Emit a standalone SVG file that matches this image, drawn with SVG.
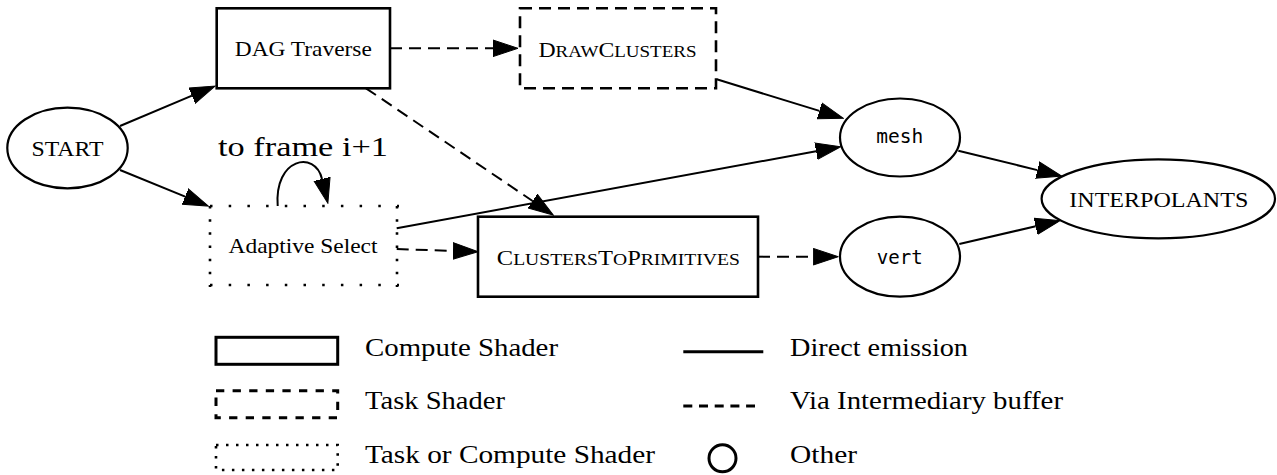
<svg xmlns="http://www.w3.org/2000/svg" width="1277" height="475" viewBox="0 0 1277 475">
  <style>
    .lbl { font-family: "Liberation Serif", "Times New Roman", serif; font-size: 22px; fill: #000; }
    .mono { font-family: "DejaVu Sans Mono", "Liberation Mono", monospace; font-size: 19.5px; fill: #000; }
    .leg { font-family: "Liberation Serif", "Times New Roman", serif; font-size: 26px; fill: #000; }
    .shape { fill: none; stroke: #000; }
    .box { stroke-width: 2.6; }
    .oval { stroke-width: 2.2; }
    .dash-box { stroke-dasharray: 12 7; }
    .dot-h { stroke-dasharray: 2.5 16.2; }
    .dot-v { stroke-dasharray: 2.5 10.67; }
    .edge { fill: none; stroke: #000; stroke-width: 2; marker-end: url(#head); }
    .dashed { stroke-dasharray: 12 7; }
  </style>
  <defs>
    <marker id="head" markerUnits="userSpaceOnUse" viewBox="0 -9 26 18" markerWidth="26" markerHeight="18" refX="0" refY="0" orient="auto">
      <path d="M0,-8.3 L25,0 L0,8.3 Z" fill="#000" stroke="#000" stroke-width="1"/>
    </marker>
  </defs>

  <rect width="1277" height="475" fill="#fff"/>

  <!-- nodes -->
  <g id="start">
    <ellipse class="shape oval" cx="67.5" cy="148" rx="60.2" ry="40.3"/>
    <text class="lbl" x="67.5" y="156" text-anchor="middle" textLength="72" lengthAdjust="spacingAndGlyphs">START</text>
  </g>
  <g id="dag-traverse">
    <rect class="shape box" x="216.7" y="8.3" width="173.3" height="80"/>
    <text class="lbl" x="303.3" y="56" text-anchor="middle" textLength="137" lengthAdjust="spacingAndGlyphs">DAG Traverse</text>
  </g>
  <g id="draw-clusters">
    <rect class="shape box dash-box" x="520" y="8.3" width="196" height="80"/>
    <text class="lbl" x="617.5" y="56.5" text-anchor="middle" textLength="158" lengthAdjust="spacingAndGlyphs">D<tspan font-size="17.6">RAW</tspan>C<tspan font-size="17.6">LUSTERS</tspan></text>
  </g>
  <g id="adaptive-select">
    <g class="shape box">
      <line class="dot-h" x1="210" y1="206" x2="399" y2="206"/>
      <line class="dot-h" x1="210" y1="285" x2="399" y2="285"/>
      <line class="dot-v" x1="210" y1="206" x2="210" y2="287"/>
      <line class="dot-v" x1="397" y1="206" x2="397" y2="287"/>
    </g>
    <text class="lbl" x="303" y="253" text-anchor="middle" textLength="149" lengthAdjust="spacingAndGlyphs">Adaptive Select</text>
    <text class="lbl" x="303" y="156" text-anchor="middle" textLength="170" lengthAdjust="spacingAndGlyphs" style="font-size:27px">to frame i+1</text>
  </g>
  <g id="clusters-to-primitives">
    <rect class="shape box" x="478" y="216.7" width="280" height="80"/>
    <text class="lbl" x="618.3" y="265" text-anchor="middle" textLength="243" lengthAdjust="spacingAndGlyphs">C<tspan font-size="17.6">LUSTERS</tspan>T<tspan font-size="17.6">O</tspan>P<tspan font-size="17.6">RIMITIVES</tspan></text>
  </g>
  <g id="mesh">
    <ellipse class="shape oval" cx="900" cy="137.5" rx="60" ry="39"/>
    <text class="mono" x="899.7" y="143.3" text-anchor="middle" textLength="47" lengthAdjust="spacingAndGlyphs">mesh</text>
  </g>
  <g id="vert">
    <ellipse class="shape oval" cx="900" cy="256.7" rx="60" ry="40"/>
    <text class="mono" x="899.7" y="264" text-anchor="middle" textLength="46" lengthAdjust="spacingAndGlyphs">vert</text>
  </g>
  <g id="interpolants">
    <ellipse class="shape oval" cx="1158.3" cy="198.8" rx="116.7" ry="39.5"/>
    <text class="lbl" x="1158.8" y="207.3" text-anchor="middle" textLength="179" lengthAdjust="spacingAndGlyphs">INTERPOLANTS</text>
  </g>

  <!-- connectors: each line stops at the arrowhead base; the marker supplies the head -->
  <g id="connectors">
    <line class="edge" x1="120" y1="126" x2="192" y2="95.7"/>
    <line class="edge" x1="120" y1="170" x2="185.2" y2="196.6"/>
    <line class="edge dashed" x1="390" y1="48.3" x2="493" y2="48.3"/>
    <line class="edge dashed" x1="366" y1="88.3" x2="532.6" y2="201"/>
    <line class="edge" x1="716.7" y1="79.3" x2="819.4" y2="110.9"/>
    <line class="edge" x1="396.7" y1="228.3" x2="816.1" y2="151.2"/>
    <line class="edge dashed" x1="396.7" y1="249" x2="453" y2="250.9"/>
    <line class="edge dashed" x1="758" y1="256.7" x2="813.3" y2="256.7"/>
    <line class="edge" x1="958.3" y1="150.7" x2="1037.4" y2="170.1"/>
    <line class="edge" x1="959.3" y1="244" x2="1035.7" y2="226.3"/>
    <!-- self loop on Adaptive Select -->
    <path class="edge" d="M277.7,206 C274,158 315,150 322,179"/>
  </g>

  <!-- legend -->
  <g id="legend">
    <rect x="216" y="337.3" width="121.7" height="27" fill="none" stroke="#000" stroke-width="3"/>
    <rect x="216" y="390.7" width="121.7" height="27" fill="none" stroke="#000" stroke-width="3" stroke-dasharray="8.3 8.3"/>
    <rect x="216" y="445" width="121.7" height="25" fill="none" stroke="#000" stroke-width="2.6" stroke-dasharray="2.5 7.5"/>
    <text class="leg" x="365" y="355.7" textLength="193" lengthAdjust="spacingAndGlyphs">Compute Shader</text>
    <text class="leg" x="365" y="409.3" textLength="140" lengthAdjust="spacingAndGlyphs">Task Shader</text>
    <text class="leg" x="365" y="462.7" textLength="290" lengthAdjust="spacingAndGlyphs">Task or Compute Shader</text>

    <line x1="683.3" y1="351.7" x2="763.3" y2="351.7" stroke="#000" stroke-width="3"/>
    <line x1="683.3" y1="406" x2="755" y2="406" stroke="#000" stroke-width="3" stroke-dasharray="9 6.7"/>
    <circle cx="722.5" cy="458.3" r="13.5" fill="none" stroke="#000" stroke-width="3"/>
    <text class="leg" x="790" y="355.7" textLength="178" lengthAdjust="spacingAndGlyphs">Direct emission</text>
    <text class="leg" x="790" y="409.3" textLength="273" lengthAdjust="spacingAndGlyphs">Via Intermediary buffer</text>
    <text class="leg" x="790" y="462.7" textLength="67" lengthAdjust="spacingAndGlyphs">Other</text>
  </g>
</svg>
